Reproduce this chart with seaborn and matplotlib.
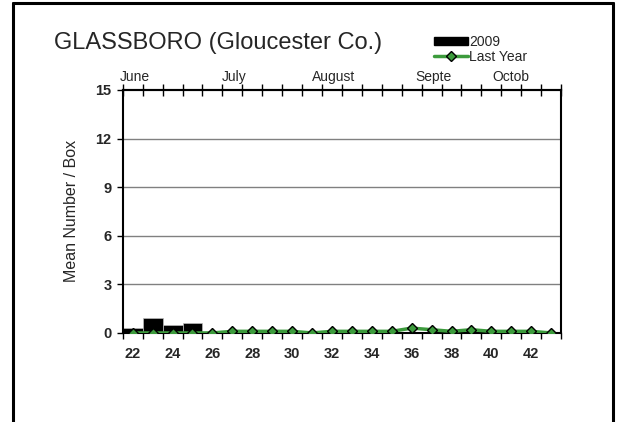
import matplotlib
matplotlib.use("Agg")
import matplotlib.pyplot as plt
import seaborn as sns
import pandas as pd
from matplotlib.patches import Patch
from matplotlib.lines import Line2D

# Data
WEEKS_2009 = [22, 23, 24, 25]
MEAN_2009 = [0.3, 0.9, 0.5, 0.6]

WEEKS_LAST = list(range(22, 44))
MEAN_LAST = [0.0, 0.0, 0.0, 0.0, 0.0, 0.1, 0.1, 0.1, 0.1, 0.0, 0.1,
             0.1, 0.1, 0.1, 0.3, 0.2, 0.1, 0.2, 0.1, 0.1, 0.1, 0.0]

MONTHS = ["June", "July", "August", "Septe", "Octob"]
MONTH_POS = [22.1, 27.1, 32.1, 37.1, 41.0]

X_TICKS = list(range(22, 43, 2))
Y_TICKS = [0, 3, 6, 9, 12, 15]

GREEN = "#3c9b3c"

sns.set_theme(style="white")
plt.rcParams["font.family"] = ["Liberation Sans", "DejaVu Sans"]

fig = plt.figure(figsize=(6.2, 4.22), dpi=100)
ax = fig.add_axes([0.198, 0.211, 0.707, 0.576])

df_bar = pd.DataFrame({"week": WEEKS_2009, "mean": MEAN_2009})
df_line = pd.DataFrame({"week": WEEKS_LAST, "mean": MEAN_LAST})

# grid lines
for y in Y_TICKS[1:-1]:
    ax.axhline(y, color="#808080", lw=1, zorder=0)

sns.barplot(data=df_bar, x="week", y="mean", native_scale=True, width=1.0,
            color="black", edgecolor="#bbbbbb", linewidth=0.5, ax=ax, zorder=2)
sns.lineplot(data=df_line, x="week", y="mean", color=GREEN, lw=2.5,
             marker="D", markersize=5.5, markerfacecolor=GREEN,
             markeredgecolor="black", markeredgewidth=1.0, ax=ax, zorder=3)

ax.set_xlim(21.5, 43.5)
ax.set_ylim(0, 15)
ax.set_xlabel("")
ax.set_ylabel("Mean Number / Box", fontsize=11.5, labelpad=12)

ax.set_yticks(Y_TICKS)
ax.set_yticklabels([str(v) for v in Y_TICKS], fontweight="bold", fontsize=10.5)
ax.tick_params(axis="y", which="major", left=True, direction="out", length=4,
               width=1, color="black", pad=4)

ax.set_xticks(X_TICKS)
ax.set_xticklabels([str(v) for v in X_TICKS], fontweight="bold", fontsize=10.5)
ax.set_xticks([w + 0.5 for w in range(21, 44)], minor=True)
ax.tick_params(axis="x", which="major", length=0, pad=10)
ax.tick_params(axis="x", which="minor", bottom=True, direction="out", length=4,
               width=1, color="black")

for side in ["left", "bottom", "right", "top"]:
    ax.spines[side].set_visible(True)
    ax.spines[side].set_color("black")
    ax.spines[side].set_linewidth(1.5)

# month labels along the top
sec = ax.secondary_xaxis("top")
sec.set_xticks(MONTH_POS)
sec.set_xticklabels(MONTHS, fontsize=10)
sec.set_xticks([w + 0.5 for w in range(21, 44)], minor=True)
sec.tick_params(axis="x", which="major", length=0, pad=4)
sec.tick_params(axis="x", which="minor", direction="inout", length=8,
                width=1, color="black")
sec.spines["top"].set_linewidth(1.5)

fig.text(0.087, 0.897, "GLASSBORO (Gloucester Co.)", fontsize=17,
         ha="left", va="center")

handles = [
    Patch(facecolor="black", edgecolor="black"),
    Line2D([0], [0], color=GREEN, lw=2.5, marker="D", markersize=5,
           markerfacecolor=GREEN, markeredgecolor="black"),
]
fig.legend(handles, ["2009", "Last Year"], loc="upper left",
           bbox_to_anchor=(0.685, 0.94), frameon=False, fontsize=10,
           handlelength=2.4, handleheight=0.55, handletextpad=0.1,
           labelspacing=0.05, borderpad=0.2)

# outer border
fig.add_artist(Line2D([0.021, 0.021], [-0.1, 0.993], color="black", lw=2.2,
                      transform=fig.transFigure))
fig.add_artist(Line2D([0.989, 0.989], [-0.1, 0.993], color="black", lw=2.2,
                      transform=fig.transFigure))
fig.add_artist(Line2D([0.021, 0.989], [0.993, 0.993], color="black", lw=2.2,
                      transform=fig.transFigure))

fig.savefig("out.png", dpi=100)
